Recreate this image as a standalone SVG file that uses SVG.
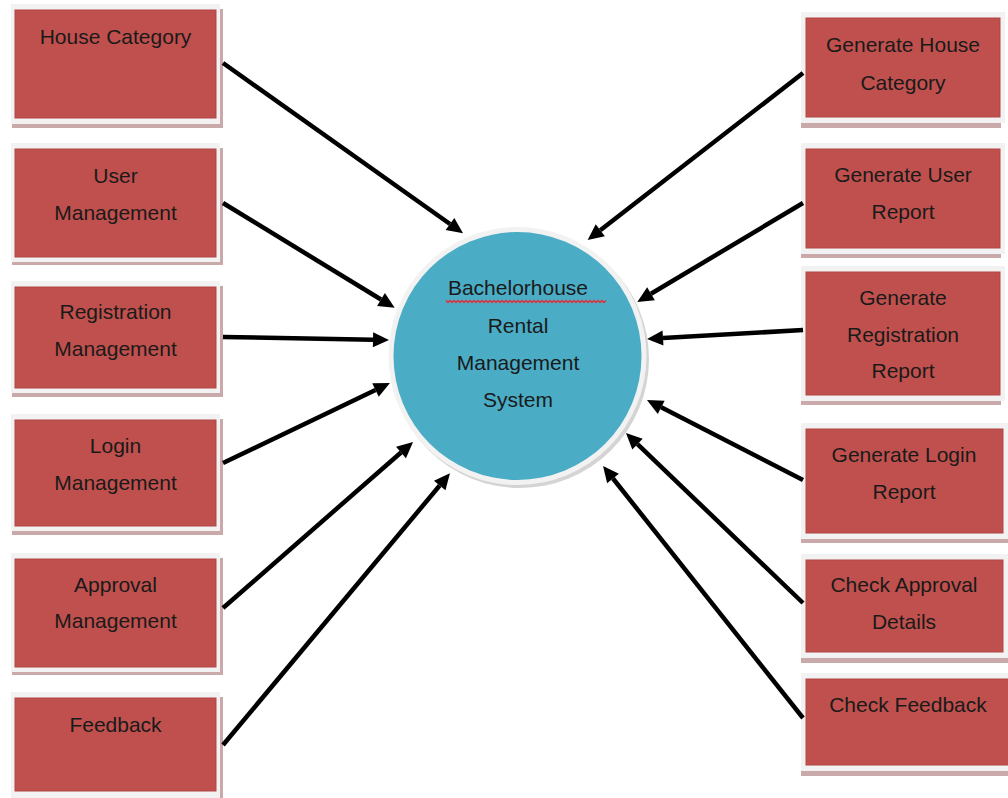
<svg xmlns="http://www.w3.org/2000/svg" width="1008" height="798" viewBox="0 0 1008 798">
<style>
.sh{fill:#c9a9a9}
.fr{fill:#f2f2f2}
.bx{fill:#c0504d;stroke:#b04744;stroke-width:1}
.t{font-family:"Liberation Sans",Arial,sans-serif;font-size:21px;fill:#1a1a1a;text-anchor:middle}
.c{stroke:#000;stroke-width:4.5;fill:none;marker-end:url(#ah)}
</style>
<defs>
<marker id="ah" markerUnits="userSpaceOnUse" markerWidth="16" markerHeight="15" refX="0" refY="7.5" orient="auto" overflow="visible">
<path d="M0,0 L16,7.5 L0,15 z" fill="#000"/>
</marker>
</defs>
<rect width="1008" height="798" fill="#fff"/>

<g id="n-house-category">
<rect class="sh" x="12" y="9" width="211" height="119"/>
<rect class="fr" x="11" y="4" width="209" height="120"/>
<rect class="bx" x="15" y="10" width="201" height="108"/>
<text class="t" x="115.5" y="44">House Category</text>
</g>
<g id="n-user-management">
<rect class="sh" x="12" y="148" width="211" height="117"/>
<rect class="fr" x="11" y="143" width="209" height="119"/>
<rect class="bx" x="15" y="149" width="201" height="108"/>
<text class="t" x="115.5" y="183">User</text>
<text class="t" x="115.5" y="220">Management</text>
</g>
<g id="n-registration-management">
<rect class="sh" x="12" y="286" width="211" height="111"/>
<rect class="fr" x="11" y="281" width="209" height="112"/>
<rect class="bx" x="15" y="287" width="201" height="101"/>
<text class="t" x="115.5" y="319">Registration</text>
<text class="t" x="115.5" y="356">Management</text>
</g>
<g id="n-login-management">
<rect class="sh" x="12" y="419" width="211" height="116"/>
<rect class="fr" x="11" y="414" width="209" height="117"/>
<rect class="bx" x="15" y="420" width="201" height="106"/>
<text class="t" x="115.5" y="453">Login</text>
<text class="t" x="115.5" y="490">Management</text>
</g>
<g id="n-approval-management">
<rect class="sh" x="12" y="558" width="211" height="117"/>
<rect class="fr" x="11" y="553" width="209" height="119"/>
<rect class="bx" x="15" y="559" width="201" height="108"/>
<text class="t" x="115.5" y="592">Approval</text>
<text class="t" x="115.5" y="628">Management</text>
</g>
<g id="n-feedback">
<rect class="sh" x="12" y="697" width="211" height="104"/>
<rect class="fr" x="11" y="692" width="209" height="106"/>
<rect class="bx" x="15" y="698" width="201" height="93"/>
<text class="t" x="115.5" y="732">Feedback</text>
</g>

<g id="n-gen-house-category">
<rect class="sh" x="801" y="17" width="200" height="111"/>
<rect class="fr" x="801" y="12" width="204" height="111"/>
<rect class="bx" x="806" y="18" width="194" height="99"/>
<text class="t" x="903" y="52">Generate House</text>
<text class="t" x="903" y="90">Category</text>
</g>
<g id="n-gen-user-report">
<rect class="sh" x="801" y="148" width="200" height="110"/>
<rect class="fr" x="801" y="143" width="204" height="111"/>
<rect class="bx" x="806" y="149" width="194" height="99"/>
<text class="t" x="903" y="182">Generate User</text>
<text class="t" x="903" y="219">Report</text>
</g>
<g id="n-gen-registration-report">
<rect class="sh" x="801" y="271" width="200" height="134"/>
<rect class="fr" x="801" y="266" width="204" height="135"/>
<rect class="bx" x="806" y="272" width="194" height="123"/>
<text class="t" x="903" y="305">Generate</text>
<text class="t" x="903" y="342">Registration</text>
<text class="t" x="903" y="378">Report</text>
</g>
<g id="n-gen-login-report">
<rect class="sh" x="801" y="428" width="207" height="115"/>
<rect class="fr" x="801" y="423" width="207" height="116"/>
<rect class="bx" x="806" y="429" width="197" height="104"/>
<text class="t" x="904" y="462">Generate Login</text>
<text class="t" x="904" y="499">Report</text>
</g>
<g id="n-check-approval-details">
<rect class="sh" x="801" y="559" width="207" height="104"/>
<rect class="fr" x="801" y="554" width="207" height="104"/>
<rect class="bx" x="806" y="560" width="197" height="92"/>
<text class="t" x="904" y="592">Check Approval</text>
<text class="t" x="904" y="629">Details</text>
</g>
<g id="n-check-feedback">
<rect class="sh" x="801" y="678" width="207" height="98"/>
<rect class="fr" x="801" y="673" width="207" height="98"/>
<rect class="bx" x="806" y="679" width="203" height="86"/>
<text class="t" x="908" y="712">Check Feedback</text>
</g>

<g id="connectors">
<line class="c" x1="223" y1="63" x2="450" y2="224"/>
<line class="c" x1="223" y1="203" x2="381" y2="299.5"/>
<line class="c" x1="223" y1="337" x2="373" y2="339.7"/>
<line class="c" x1="223" y1="463" x2="375.5" y2="390"/>
<line class="c" x1="223" y1="608" x2="401" y2="452.5"/>
<line class="c" x1="223" y1="745" x2="439.7" y2="485.5"/>
<line class="c" x1="803" y1="73" x2="600.3" y2="230.2"/>
<line class="c" x1="803" y1="203" x2="651" y2="293.8"/>
<line class="c" x1="803" y1="330" x2="663" y2="338.1"/>
<line class="c" x1="803" y1="480" x2="661.2" y2="407.3"/>
<line class="c" x1="803" y1="603" x2="637.5" y2="444.1"/>
<line class="c" x1="803" y1="718" x2="613" y2="478.5"/>
</g>

<g id="n-system">
<circle cx="520" cy="359" r="129" fill="#d4d4d4"/>
<circle cx="517.5" cy="356" r="129" fill="#f2f2f2"/>
<circle cx="517.5" cy="356" r="124" fill="#4bacc6"/>
<text class="t" x="518" y="295">Bachelorhouse</text>
<path d="M446,300.5 l2,2 l2,-2 l2,2 l2,-2 l2,2 l2,-2 l2,2 l2,-2 l2,2 l2,-2 l2,2 l2,-2 l2,2 l2,-2 l2,2 l2,-2 l2,2 l2,-2 l2,2 l2,-2 l2,2 l2,-2 l2,2 l2,-2 l2,2 l2,-2 l2,2 l2,-2 l2,2 l2,-2 l2,2 l2,-2 l2,2 l2,-2 l2,2 l2,-2 l2,2 l2,-2 l2,2 l2,-2 l2,2 l2,-2 l2,2 l2,-2 l2,2 l2,-2 l2,2 l2,-2 l2,2 l2,-2 l2,2 l2,-2 l2,2 l2,-2 l2,2 l2,-2 l2,2 l2,-2 l2,2 l2,-2 l2,2 l2,-2 l2,2 l2,-2 l2,2 l2,-2 l2,2 l2,-2 l2,2 l2,-2 l2,2 l2,-2 l2,2 l2,-2 l2,2 l2,-2 l2,2 l2,-2 l2,2 l2,-2" fill="none" stroke="#e0303a" stroke-width="1.4"/>
<text class="t" x="518" y="333">Rental</text>
<text class="t" x="518" y="370">Management</text>
<text class="t" x="518" y="407">System</text>
</g>
</svg>
